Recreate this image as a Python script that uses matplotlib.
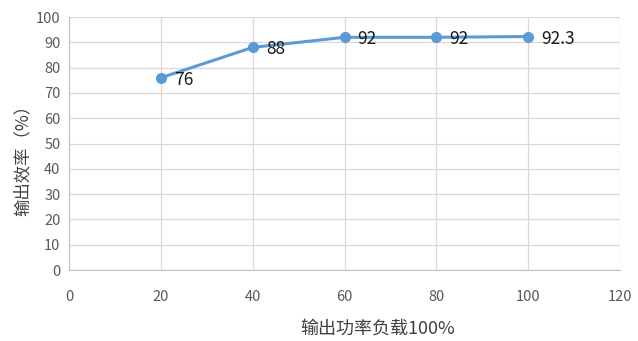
import matplotlib
matplotlib.use('Agg')
import matplotlib.pyplot as plt

plt.rcParams['font.family'] = ['Noto Sans CJK SC', 'DejaVu Sans']

# 负载率与效率
load = [20, 40, 60, 80, 100]
efficiency = [76, 88, 92, 92, 92.3]
value_labels = ['76', '88', '92', '92', '92.3']

fig = plt.figure(figsize=(6.38, 3.41), dpi=100)
ax = fig.add_axes([0.108, 0.208, 0.864, 0.742])

ax.plot(load, efficiency, color='#5B9BD5', linewidth=2.2, marker='o',
        markersize=7, zorder=3)
for x, y, s in zip(load, efficiency, value_labels):
    ax.annotate(s, (x, y), xytext=(9.5, -1.5), textcoords='offset points',
                fontsize=12.5, color='#1a1a1a', va='center', ha='left')

ax.set_xlim(0, 120)
ax.set_ylim(0, 100)
ax.set_xticks(range(0, 121, 20))
ax.set_yticks(range(0, 101, 10))
ax.grid(True, color='#D9D9D9', linewidth=0.9)
ax.set_axisbelow(True)

for side in ['top', 'right']:
    ax.spines[side].set_visible(False)
for side in ['left', 'bottom']:
    ax.spines[side].set_color('#BFBFBF')
ax.tick_params(length=0, labelsize=10.5, colors='#595959')
ax.tick_params(axis='x', pad=14)
ax.tick_params(axis='y', pad=6)

ax.set_ylabel('输出效率（%）', fontsize=12.5, color='#404040')
ax.yaxis.set_label_coords(-0.068, 0.45)
ax.set_xlabel('输出功率负载100%', fontsize=13, color='#404040')
ax.xaxis.set_label_coords(0.56, -0.195)

fig.savefig('out.png', dpi=100)
